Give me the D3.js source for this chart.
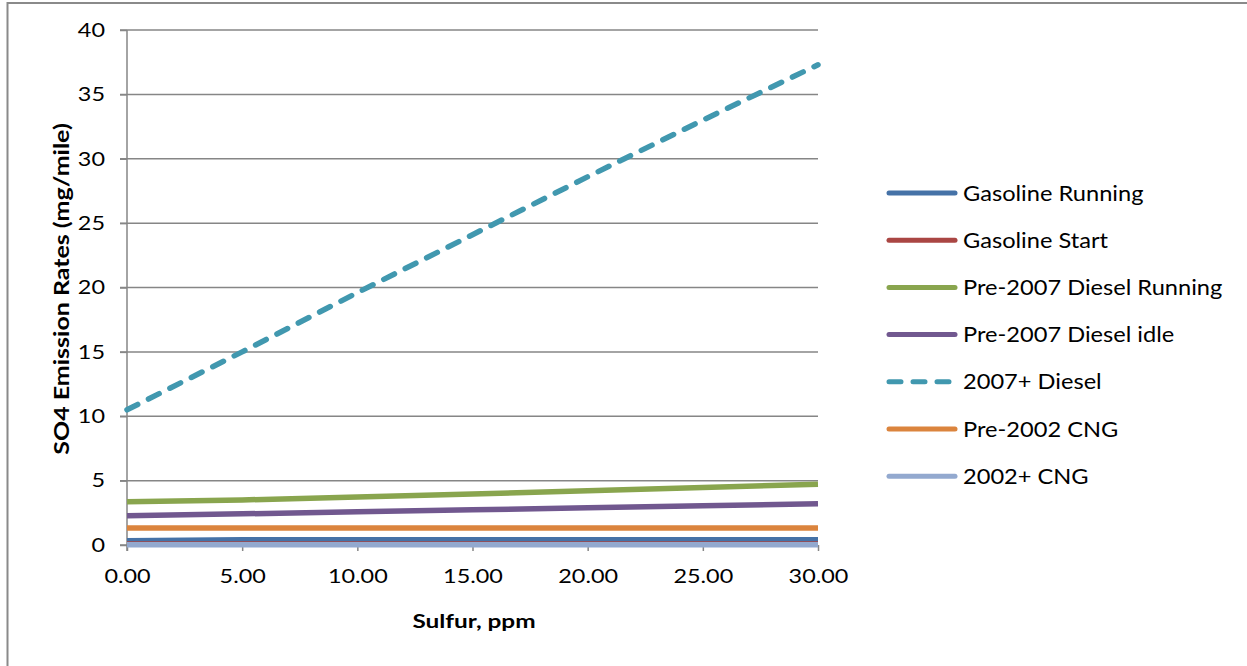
<!DOCTYPE html>
<html><head><meta charset="utf-8">
<script src="https://cdn.jsdelivr.net/npm/d3@7"></script>
<style>
body{margin:0;background:#fff;}
svg{display:block;font-family:Lato,"Open Sans",sans-serif;}
</style>
</head><body>
<svg id="c" width="1247" height="666"></svg>
<script>
// ---- data ----
const sulfur = [0, 5, 10, 15, 20, 25, 30];
const seriesNames = ["Gasoline Running","Gasoline Start","Pre-2007 Diesel Running","Pre-2007 Diesel idle","2007+ Diesel","Pre-2002 CNG","2002+ CNG"];
const gasolineRunning = [0.33, 0.40, 0.40, 0.40, 0.40, 0.40, 0.41];
const gasolineStart = [0.08, 0.08, 0.08, 0.08, 0.08, 0.08, 0.08];
const pre2007DieselRunning = [3.35, 3.50, 3.72, 3.96, 4.22, 4.47, 4.72];
const pre2007DieselIdle = [2.27, 2.42, 2.58, 2.73, 2.89, 3.04, 3.20];
const diesel2007Plus = [10.5, 15.0, 19.6, 24.1, 28.6, 33.0, 37.3];
const pre2002CNG = [1.32, 1.32, 1.32, 1.32, 1.32, 1.32, 1.32];
const cng2002Plus = [0.02, 0.02, 0.02, 0.02, 0.02, 0.02, 0.02];
const seriesValues = [gasolineRunning, gasolineStart, pre2007DieselRunning, pre2007DieselIdle, diesel2007Plus, pre2002CNG, cng2002Plus];
const seriesColors = ["#4572A7","#AA4643","#89A54E","#71588F","#4198AF","#DB843D","#93A9CF"];
const seriesDashed = [false,false,false,false,true,false,false];
const yTicks = [0,5,10,15,20,25,30,35,40];
const xTicks = [0,5,10,15,20,25,30];
const xTitle = "Sulfur, ppm";
const yTitle = "SO4 Emission  Rates (mg/mile)";

(function(){
const svg = d3.select("#c");
const grid = "#868686";
const pL = 127, pR = 818, pT = 30, pB = 545;
const x = d3.scaleLinear().domain([0,30]).range([pL,pR]);
const y = d3.scaleLinear().domain([0,40]).range([pB,pT]);
const SX = 1.22; // horizontal text stretch of reference

// chart border
svg.append("rect").attr("x",7.5).attr("y",3).attr("width",1400).attr("height",800)
  .attr("fill","none").attr("stroke","#8a8a8a").attr("stroke-width",2);

// gridlines
svg.append("g").selectAll("line").data(yTicks.filter(d=>d>0)).join("line")
  .attr("x1",pL-7).attr("x2",pR).attr("y1",d=>y(d)).attr("y2",d=>y(d))
  .attr("stroke",grid).attr("stroke-width",1.5);

const yAxis = svg.append("g").attr("transform",`translate(${pL},0)`)
  .call(d3.axisLeft(y).tickValues(yTicks).tickSize(7).tickFormat(d3.format("d")).tickPadding(15));
const xAxis = svg.append("g").attr("transform",`translate(0,${pB})`)
  .call(d3.axisBottom(x).tickValues(xTicks).tickSize(6).tickFormat(d3.format(".2f")).tickPadding(18));
[yAxis,xAxis].forEach(a=>{
  a.select(".domain").attr("stroke",grid).attr("stroke-width",1.5);
  a.selectAll(".tick line").attr("stroke",grid).attr("stroke-width",1.5);
  a.selectAll("text").attr("fill","#000").attr("font-size",19.5).attr("font-family","Lato");
});
yAxis.select(".domain").attr("d",`M0,${pT}V${pB+6}`);
xAxis.select(".domain").attr("d",`M${pL-7},0H${pR}`);
yAxis.selectAll(".tick text").each(function(){
  const t=d3.select(this); const xx=+t.attr("x");
  t.attr("x",null).attr("transform",`translate(${xx},0) scale(1.2,1)`);
});
xAxis.selectAll(".tick text").attr("transform",`scale(1.2,1)`);

const line = d3.line().x((d,i)=>x(sulfur[i])).y(d=>y(d));
seriesValues.forEach((vals,i)=>{
  svg.append("path").datum(vals).attr("d",line)
    .attr("fill","none").attr("stroke",seriesColors[i]).attr("stroke-width",5.5)
    .attr("stroke-linecap",seriesDashed[i]?"round":"butt").attr("stroke-linejoin","round")
    .attr("stroke-dasharray",seriesDashed[i]?"12 12":null);
});

svg.append("text").attr("transform",`translate(474,628) scale(1.25,1)`).attr("text-anchor","middle")
  .attr("font-weight","bold").attr("font-size",19.5).text(xTitle);
svg.append("text").attr("transform",`translate(69,289) rotate(-90) scale(1.25,1)`).attr("text-anchor","middle")
  .attr("font-weight","bold").attr("font-size",20).text(yTitle);

const lg = svg.append("g");
seriesNames.forEach((n,i)=>{
  const ly = 193 + i*47.2;
  lg.append("line").attr("x1",889).attr("x2",955).attr("y1",ly).attr("y2",ly)
    .attr("stroke",seriesColors[i]).attr("stroke-width",5).attr("stroke-linecap","round")
    .attr("stroke-dasharray",seriesDashed[i]?"12 12":null);
  lg.append("text").attr("transform",`translate(963,${ly+7.5}) scale(1.17,1)`)
    .attr("font-size",20.2).text(n);
});
})();
</script>
</body></html>
